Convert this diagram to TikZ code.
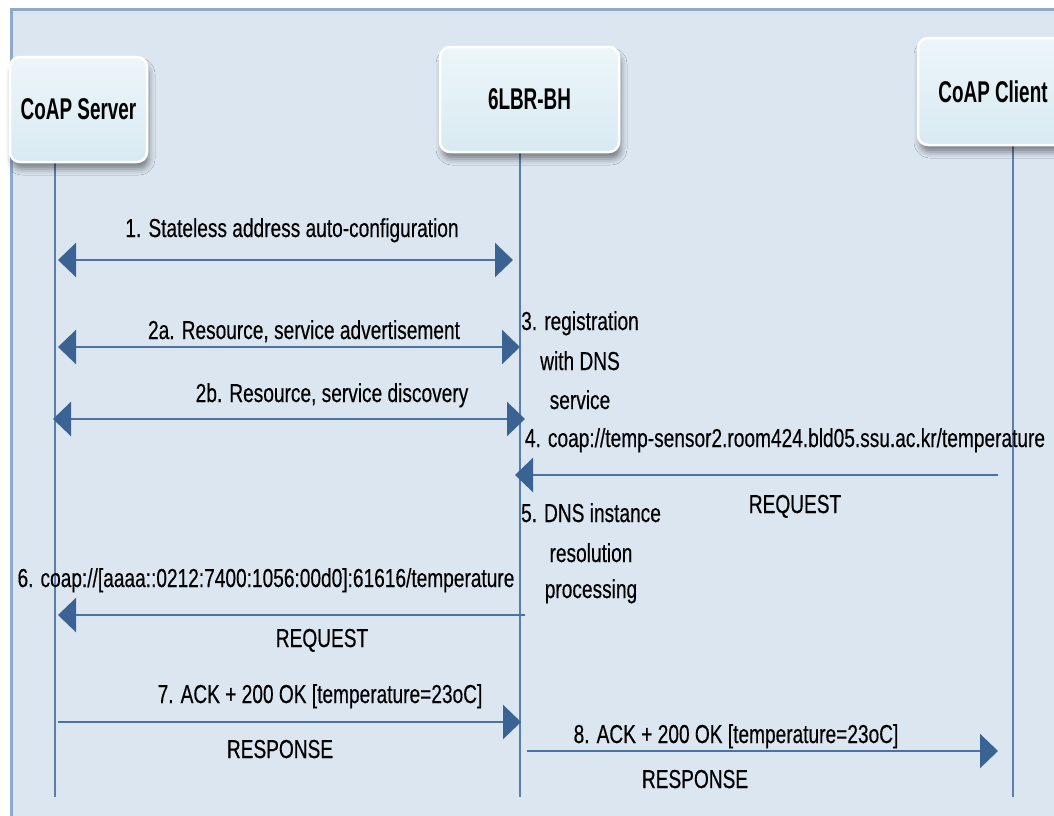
\documentclass[tikz,border=0pt]{standalone}
\usepackage{fontspec}
\setmainfont{Liberation Sans}
\newfontfamily\msgfont[FakeStretch=0.735,FakeBold=0.35]{Liberation Sans}
\newfontfamily\hdrfont[FakeStretch=0.63]{Liberation Sans}
\usetikzlibrary{arrows.meta,shadows.blur}

\definecolor{canvas}{HTML}{DCE6F1}
\definecolor{frameline}{HTML}{8EA9C9}
\definecolor{lifeline}{HTML}{5A7EAE}
\definecolor{msgline}{HTML}{4A72A2}
\definecolor{msgtip}{HTML}{3A6293}
\definecolor{boxtop}{HTML}{EDF6F9}
\definecolor{boxbot}{HTML}{D8EAF2}

\begin{document}
\begin{tikzpicture}[x=1pt,y=-1pt,
  actor/.style={draw=white, line width=2.5pt, rounded corners=10pt,
    top color=boxtop, bottom color=boxbot,
    blur shadow={shadow xshift=2pt, shadow yshift=-7pt, shadow blur radius=6pt, shadow opacity=45},
    font=\hdrfont\bfseries\fontsize{30}{36}\selectfont, inner sep=0pt},
  life/.style={draw=lifeline, line width=2pt},
  bigtip/.tip={Triangle[length=18pt,width=34pt,color=msgtip]},
  msg/.style={draw=msgline, line width=2.5pt, -bigtip},
  bimsg/.style={draw=msgline, line width=2.5pt, bigtip-bigtip},
  lbl/.style={font=\msgfont\fontsize{26}{31}\selectfont, inner sep=0pt, anchor=base},
]
\useasboundingbox (0,0) rectangle (1054,815);
\clip (0,0) rectangle (1054,815);

% background panel and its frame
\fill[canvas] (11,9) rectangle (1060,820);
\draw[frameline, line width=3pt] (11,820) -- (11,9) -- (1060,9);

% lifelines
\coordinate (srvTop) at (55,162);   \coordinate (srvBot) at (55,797);
\coordinate (brTop)  at (520,152);  \coordinate (brBot)  at (520,797);
\coordinate (cliTop) at (1013,145); \coordinate (cliBot) at (1013,797);
\draw[life] (srvTop) -- (srvBot);
\draw[life] (brTop) -- (brBot);
\draw[life] (cliTop) -- (cliBot);

% participants
\node[actor, minimum width=137pt, minimum height=105pt] (srv) at (78.5,109.5) {CoAP Server};
\node[actor, minimum width=179pt, minimum height=105pt] (br)  at (529.5,99.5) {6LBR-BH};
\node[actor, minimum width=150pt, minimum height=107pt] (cli) at (993,91.5) {CoAP Client};

% message end points on the lifelines
\coordinate (m1a) at (58,260);  \coordinate (m1b) at (513,260);
\coordinate (m2a) at (58,347);  \coordinate (m2b) at (520,347);
\coordinate (m3a) at (53,419);  \coordinate (m3b) at (525,419);
\coordinate (m4a) at (998,475); \coordinate (m4b) at (515,475);
\coordinate (m6a) at (525,615); \coordinate (m6b) at (58,615);
\coordinate (m7a) at (58,722);  \coordinate (m7b) at (521,722);
\coordinate (m8a) at (527,751); \coordinate (m8b) at (998,751);

\draw[bimsg] (m1a) -- (m1b);
\draw[bimsg] (m2a) -- (m2b);
\draw[bimsg] (m3a) -- (m3b);
\draw[msg] (m4a) -- (m4b);
\draw[msg] (m6a) -- (m6b);
\draw[msg] (m7a) -- (m7b);
\draw[msg] (m8a) -- (m8b);

% message labels
\node[lbl] (t1)  at (292,237) {1. Stateless address auto-configuration};
\node[lbl] (t2a) at (304,339) {2a. Resource, service advertisement};
\node[lbl] (t2b) at (332,402) {2b. Resource, service discovery};
\node[lbl] (t3a) at (580,330) {3. registration};
\node[lbl] (t3b) at (580,370) {with DNS};
\node[lbl] (t3c) at (580,409) {service};
\node[lbl] (t4)  at (785,447) {4. coap://temp-sensor2.room424.bld05.ssu.ac.kr/temperature};
\node[lbl] (r4)  at (795,513) {REQUEST};
\node[lbl] (t5a) at (591,522) {5. DNS instance};
\node[lbl] (t5b) at (591,562) {resolution};
\node[lbl] (t5c) at (591,598) {processing};
\node[lbl] (t6)  at (266,587) {6. coap://[aaaa::0212:7400:1056:00d0]:61616/temperature};
\node[lbl] (r6)  at (322,647) {REQUEST};
\node[lbl] (t7)  at (320,703) {7. ACK + 200 OK [temperature=23oC]};
\node[lbl] (r7)  at (280,758) {RESPONSE};
\node[lbl] (t8)  at (736,743) {8. ACK + 200 OK [temperature=23oC]};
\node[lbl] (r8)  at (695,788) {RESPONSE};
\end{tikzpicture}
\end{document}
